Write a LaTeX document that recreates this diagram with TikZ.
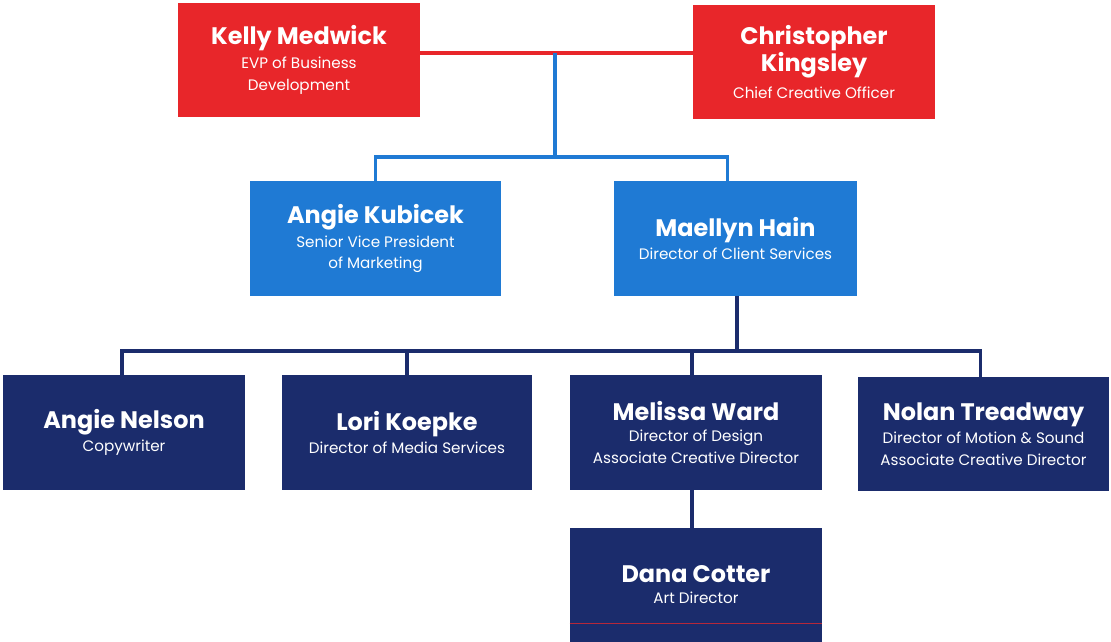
\documentclass[tikz,border=0pt]{standalone}
\usepackage{fontspec}
\setmainfont{Poppins}
\usetikzlibrary{positioning}

\definecolor{execred}{HTML}{E8262A}
\definecolor{vpblue}{HTML}{1F7AD4}
\definecolor{staffnavy}{HTML}{1B2C6C}

\newcommand{\pname}[1]{{\fontsize{17}{20}\selectfont\bfseries #1}}
\newcommand{\prole}[1]{{\fontsize{10.8}{15.6}\selectfont #1}}

\begin{document}
\begin{tikzpicture}[x=0.025cm, y=-0.025cm,
    box/.style={rectangle, text=white, align=center, inner sep=0pt,
        minimum width=6.05cm, minimum height=2.85cm},
    exec/.style={box, fill=execred},
    vp/.style={box, fill=vpblue},
    staff/.style={box, fill=staffnavy},
    link/.style={line width=2.4pt}]
    \useasboundingbox (0,0) rectangle (1111,642);

    \node[exec] (kelly) at (299,60) {\pname{Kelly Medwick}\\[3pt]\prole{EVP of Business}\\[3.5pt]\prole{Development}};
    \node[exec] (chris) at (814,62) {\pname{Christopher}\\\pname{Kingsley}\\[5pt]\prole{Chief Creative Officer}};

    \node[vp, minimum width=6.25cm] (kubicek) at (375.5,238.5) {\pname{Angie Kubicek}\\[3pt]\prole{Senior Vice President}\\[3.5pt]\prole{of Marketing}};
    \node[vp] (hain) at (735.5,238.5) {\pname{Maellyn Hain}\\[3pt]\prole{Director of Client Services}};

    \node[staff] (nelson) at (124,432.5) {\pname{Angie Nelson}\\[3pt]\prole{Copywriter}};
    \node[staff, minimum width=6.25cm] (koepke) at (407,432.5) {\pname{Lori Koepke}\\[3pt]\prole{Director of Media Services}};
    \node[staff, minimum width=6.3cm] (ward) at (696,432.5) {\pname{Melissa Ward}\\[3pt]\prole{Director of Design}\\[3.5pt]\prole{Associate Creative Director}};
    \node[staff, minimum width=6.28cm] (treadway) at (983.5,434) {\pname{Nolan Treadway}\\[3pt]\prole{Director of Motion \& Sound}\\[3.5pt]\prole{Associate Creative Director}};
    \node[staff, minimum width=6.3cm] (dana) at (696,585) {\pname{Dana Cotter}\\[3pt]\prole{Art Director}};

    \coordinate (top) at (555,53);
    \coordinate (mid) at (555,157);
    \coordinate (bar) at (737,351);

    \draw[link, execred] (kelly.east |- top) -- (chris.west |- top);
    \draw[link, vpblue] (top) -- (mid);
    \draw[link, vpblue] (kubicek.north) |- (mid) -| ([xshift=-0.2cm]hain.north);
    \draw[link, staffnavy] (hain.south -| bar) -- (bar);
    \draw[link, staffnavy] ([xshift=-0.05cm]nelson.north) |- (bar) -| ([xshift=-0.08cm]treadway.north);
    \draw[link, staffnavy] (koepke.north) -- (koepke.north |- bar);
    \draw[link, staffnavy] ([xshift=-0.1cm]ward.north) -- ([xshift=-0.1cm]ward.north |- bar);
    \draw[link, staffnavy] ([xshift=-0.1cm]ward.south) -- ([xshift=-0.1cm]dana.north);

    \draw[execred!75!staffnavy, line width=0.6pt] ([yshift=-0.95cm]dana.west) -- ([yshift=-0.95cm]dana.east);
\end{tikzpicture}
\end{document}
